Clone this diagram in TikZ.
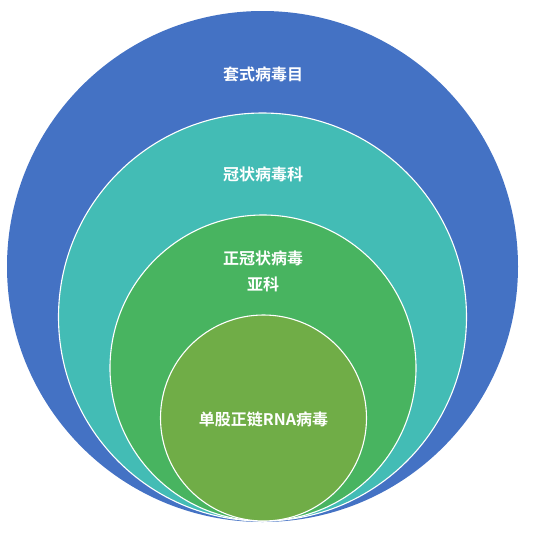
\documentclass[tikz,border=0pt]{standalone}
\usepackage{fontspec}
\newfontfamily\cjkbold{Noto Sans CJK SC Bold}
\usepackage{tikz}

\definecolor{orderblue}{HTML}{4472C4}
\definecolor{familyteal}{HTML}{43BCB5}
\definecolor{subfamgreen}{HTML}{48B460}
\definecolor{rnaolive}{HTML}{70AD47}

\begin{document}
\begin{tikzpicture}[%
x=1pt, y=-1pt,
ring/.style={draw=white, line width=1.1pt},
tag/.style={text=white, font=\cjkbold\fontsize{16}{26}\selectfont, align=center, inner sep=0pt},
]
\useasboundingbox (0,0) rectangle (534,541);
%% circle;
\fill [orderblue] (262.5,266.5) circle (255.5);
%% circle;
\filldraw [ring, fill=familyteal] (262.5,317) circle (204);
%% circle;
\filldraw [ring, fill=subfamgreen] (263,368) circle (153);
%% circle;
\filldraw [ring, fill=rnaolive] (263.5,418) circle (103);
%% label;
\node [tag] (order) at (263,74) {套式病毒目};
%% label;
\node [tag] (family) at (263,174) {冠状病毒科};
%% label;
\node [tag] (subfamily) at (263,271) {正冠状病毒\\亚科};
%% label;
\node [tag] (genome) at (263.5,419) {单股正链RNA病毒};
\end{tikzpicture}
\end{document}
